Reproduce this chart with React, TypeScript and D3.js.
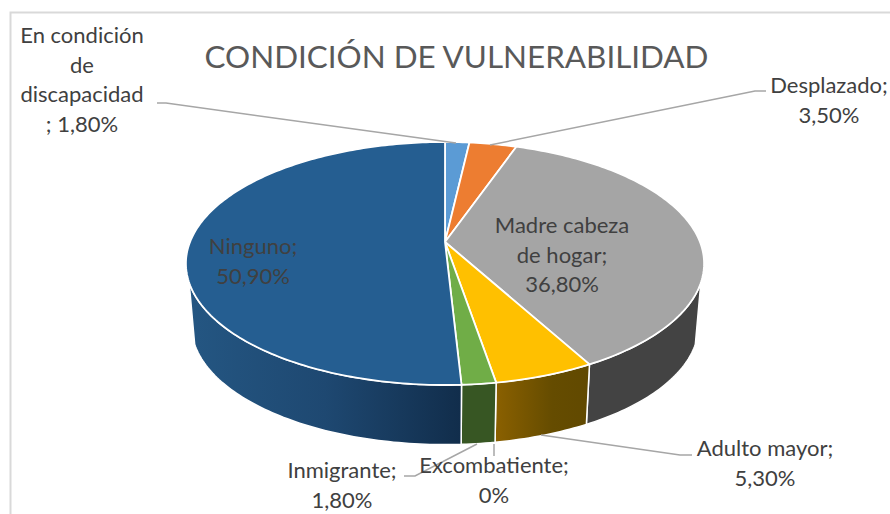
import React from "react";
import * as d3 from "d3";

const categories = ["En condición de discapacidad", "Desplazado", "Madre cabeza de hogar", "Adulto mayor", "Excombatiente", "Inmigrante", "Ninguno"];
const values = [1.8, 3.5, 36.8, 5.3, 0, 1.8, 50.9];
const topColors = ["#5b9bd5", "#ed7d31", "#a5a5a5", "#ffc000", "#4472c4", "#70ad47", "#255e91"];
const wallColors = ["#2f5f8c", "#8a4a1c", "#434343", "url(#wallYellow)", "#223a6e", "#375623", "url(#wallBlue)"];
const labelLines = [
  ["En condición", "de", "discapacidad", "; 1,80%"],
  ["Desplazado;", "3,50%"],
  ["Madre cabeza", "de hogar;", "36,80%"],
  ["Adulto mayor;", "5,30%"],
  ["Excombatiente;", "0%"],
  ["Inmigrante;", "1,80%"],
  ["Ninguno;", "50,90%"],
];
const labelX = [82, 829, 562, 765, 494, 342, 253];
const labelY = [43, 93, 233, 456, 473, 478, 254];
const leaders: [number, number][][] = [
  [[157, 103], [166, 103], [456, 143]],
  [[766, 91], [755, 91], [490, 145]],
  [[692, 455], [680, 455], [541, 435]],
  [[494, 444], [494, 456]],
  [[404, 476], [415, 476], [477, 444]],
];
const titleText = "CONDICIÓN DE VULNERABILIDAD";

const FONT = "Lato, Carlito, Calibri, sans-serif";
const deg = Math.PI / 180;
const wallFrom = 109 * deg;
const wallTo = 251 * deg;

const k = 0.177;
const topDisc = { x: 445, y: 242, a: 255, b: 117.7 };
const botDisc = { x: 445, y: 304.5, a: 249.5, b: 115.3 };

function project(d: typeof topDisc, t: number): [number, number] {
  const u = Math.sin(t);
  const v = -Math.cos(t);
  const w = 1 - k * v;
  return [d.x + (d.a * u) / w, d.y + (d.b * v) / w];
}
const samples = (a: number, b: number) => {
  const n = Math.max(2, Math.ceil(Math.abs(b - a) / (1 * deg)));
  return d3.range(n + 1).map((i) => a + ((b - a) * i) / n);
};
const lineGen = d3.line<[number, number]>();

export default function App() {
  const arcs = d3.pie<number>().sort(null).value((d) => d)(values);
  const tops = arcs.map((s) => {
    const rim = samples(s.startAngle, s.endAngle).map((t) => project(topDisc, t));
    return lineGen([[topDisc.x, topDisc.y], ...rim])! + "Z";
  });
  const walls = arcs.map((s) => {
    const a = Math.max(s.startAngle, wallFrom);
    const b = Math.min(s.endAngle, wallTo);
    if (b <= a) return null;
    const up = samples(a, b).map((t) => project(topDisc, t));
    const lo = samples(b, a).map((t) => project(botDisc, t));
    return lineGen([...up, ...lo])! + "Z";
  });
  return (
    <svg width={890} height={514} viewBox="0 0 890 514" style={{ position: "fixed", left: 0, top: 0, background: "#fff" }}>
      <defs>
        <linearGradient id="wallBlue" gradientUnits="userSpaceOnUse" x1={190} x2={462} y1={0} y2={0}>
          <stop offset="0" stopColor="#245682" />
          <stop offset="0.5" stopColor="#1e4871" />
          <stop offset="1" stopColor="#112d4b" />
        </linearGradient>
        <linearGradient id="wallYellow" gradientUnits="userSpaceOnUse" x1={496} x2={590} y1={0} y2={0}>
          <stop offset="0" stopColor="#8a6000" />
          <stop offset="0.6" stopColor="#654c00" />
          <stop offset="1" stopColor="#614900" />
        </linearGradient>
      </defs>
      <path d="M10.5 514V12.5H890" fill="none" stroke="#d9d9d9" strokeWidth={2} />
      <text x={456.5} y={68} textAnchor="middle" fontFamily={FONT} fontSize={31.4} fill="#595959">{titleText}</text>
      {walls.map((d, i) => d && <path key={i} d={d} fill={wallColors[i]} stroke="#fff" strokeWidth={1.5} strokeLinejoin="round" />)}
      {tops.map((d, i) => values[i] > 0 && <path key={i} d={d} fill={topColors[i]} stroke="#fff" strokeWidth={1.8} strokeLinejoin="round" />)}
      {leaders.map((p, i) => <path key={i} d={lineGen(p)!} fill="none" stroke="#a6a6a6" strokeWidth={1.5} />)}
      {labelLines.map((lines, i) => (
        <text key={categories[i]} textAnchor="middle" fontFamily={FONT} fontSize={22} fill="#404040">
          {lines.map((l, j) => <tspan key={j} x={labelX[i]} y={labelY[i] + j * 29.5}>{l}</tspan>)}
        </text>
      ))}
    </svg>
  );
}
